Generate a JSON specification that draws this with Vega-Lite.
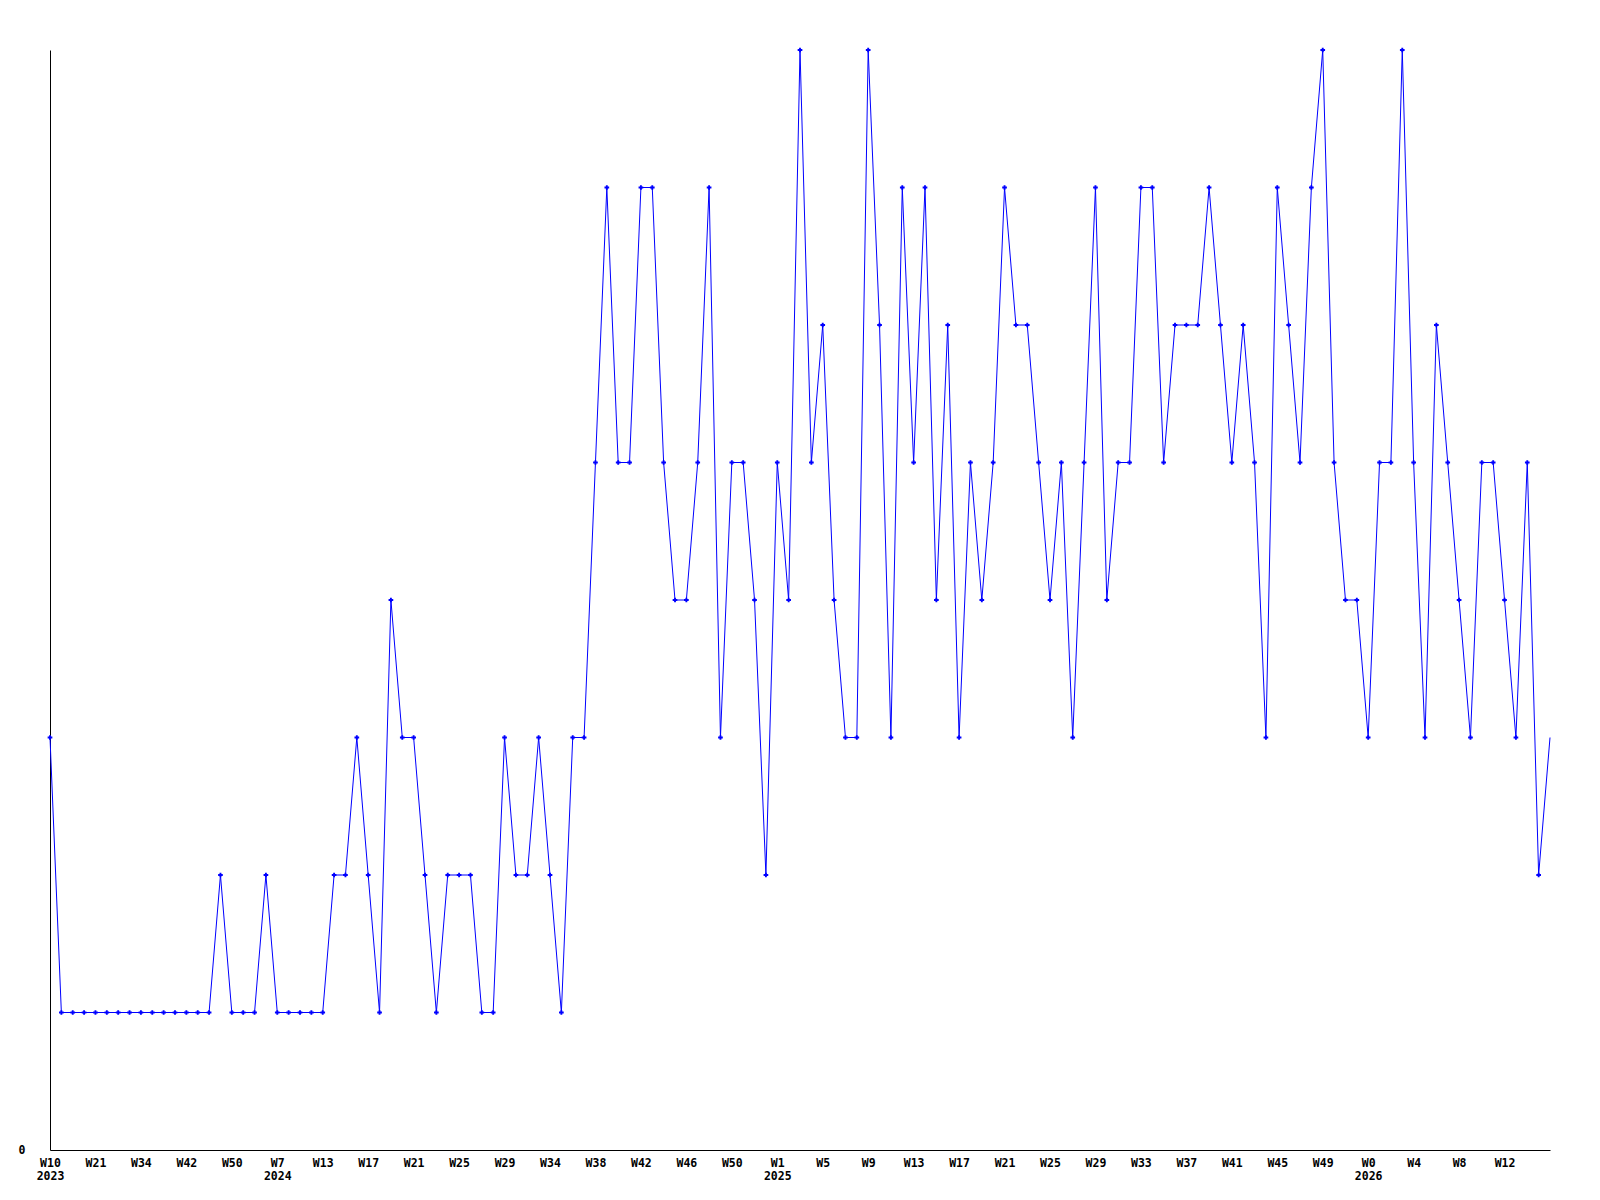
{
  "$schema": "https://vega.github.io/schema/vega-lite/v6.json",
  "width": 1500,
  "height": 1100,
  "autosize": "none",
  "padding": {"left": 50, "top": 50, "right": 50, "bottom": 50},
  "background": "white",
  "config": {"view": {"stroke": null}},
  "data": {"values": [
    {"key":"2023-W10","v":3},{"key":"2023-W13","v":1},{"key":"2023-W16","v":1},{"key":"2023-W19","v":1},
    {"key":"2023-W21","v":1},{"key":"2023-W24","v":1},{"key":"2023-W27","v":1},{"key":"2023-W31","v":1},
    {"key":"2023-W34","v":1},{"key":"2023-W36","v":1},{"key":"2023-W38","v":1},{"key":"2023-W40","v":1},
    {"key":"2023-W42","v":1},{"key":"2023-W44","v":1},{"key":"2023-W46","v":1},{"key":"2023-W48","v":2},
    {"key":"2023-W50","v":1},{"key":"2023-W52","v":1},{"key":"2024-W2","v":1},{"key":"2024-W4","v":2},
    {"key":"2024-W7","v":1},{"key":"2024-W9","v":1},{"key":"2024-W10","v":1},{"key":"2024-W12","v":1},
    {"key":"2024-W13","v":1},{"key":"2024-W14","v":2},{"key":"2024-W15","v":2},{"key":"2024-W16","v":3},
    {"key":"2024-W17","v":2},{"key":"2024-W18","v":1},{"key":"2024-W19","v":4},{"key":"2024-W20","v":3},
    {"key":"2024-W21","v":3},{"key":"2024-W22","v":2},{"key":"2024-W23","v":1},{"key":"2024-W24","v":2},
    {"key":"2024-W25","v":2},{"key":"2024-W26","v":2},{"key":"2024-W27","v":1},{"key":"2024-W28","v":1},
    {"key":"2024-W29","v":3},{"key":"2024-W30","v":2},{"key":"2024-W31","v":2},{"key":"2024-W33","v":3},
    {"key":"2024-W34","v":2},{"key":"2024-W35","v":1},{"key":"2024-W36","v":3},{"key":"2024-W37","v":3},
    {"key":"2024-W38","v":5},{"key":"2024-W39","v":7},{"key":"2024-W40","v":5},{"key":"2024-W41","v":5},
    {"key":"2024-W42","v":7},{"key":"2024-W43","v":7},{"key":"2024-W44","v":5},{"key":"2024-W45","v":4},
    {"key":"2024-W46","v":4},{"key":"2024-W47","v":5},{"key":"2024-W48","v":7},{"key":"2024-W49","v":3},
    {"key":"2024-W50","v":5},{"key":"2024-W51","v":5},{"key":"2024-W52","v":4},{"key":"2025-W0","v":2},
    {"key":"2025-W1","v":5},{"key":"2025-W2","v":4},{"key":"2025-W3","v":8},{"key":"2025-W4","v":5},
    {"key":"2025-W5","v":6},{"key":"2025-W6","v":4},{"key":"2025-W7","v":3},{"key":"2025-W8","v":3},
    {"key":"2025-W9","v":8},{"key":"2025-W10","v":6},{"key":"2025-W11","v":3},{"key":"2025-W12","v":7},
    {"key":"2025-W13","v":5},{"key":"2025-W14","v":7},{"key":"2025-W15","v":4},{"key":"2025-W16","v":6},
    {"key":"2025-W17","v":3},{"key":"2025-W18","v":5},{"key":"2025-W19","v":4},{"key":"2025-W20","v":5},
    {"key":"2025-W21","v":7},{"key":"2025-W22","v":6},{"key":"2025-W23","v":6},{"key":"2025-W24","v":5},
    {"key":"2025-W25","v":4},{"key":"2025-W26","v":5},{"key":"2025-W27","v":3},{"key":"2025-W28","v":5},
    {"key":"2025-W29","v":7},{"key":"2025-W30","v":4},{"key":"2025-W31","v":5},{"key":"2025-W32","v":5},
    {"key":"2025-W33","v":7},{"key":"2025-W34","v":7},{"key":"2025-W35","v":5},{"key":"2025-W36","v":6},
    {"key":"2025-W37","v":6},{"key":"2025-W38","v":6},{"key":"2025-W39","v":7},{"key":"2025-W40","v":6},
    {"key":"2025-W41","v":5},{"key":"2025-W42","v":6},{"key":"2025-W43","v":5},{"key":"2025-W44","v":3},
    {"key":"2025-W45","v":7},{"key":"2025-W46","v":6},{"key":"2025-W47","v":5},{"key":"2025-W48","v":7},
    {"key":"2025-W49","v":8},{"key":"2025-W50","v":5},{"key":"2025-W51","v":4},{"key":"2025-W52","v":4},
    {"key":"2026-W0","v":3},{"key":"2026-W1","v":5},{"key":"2026-W2","v":5},{"key":"2026-W3","v":8},
    {"key":"2026-W4","v":5},{"key":"2026-W5","v":3},{"key":"2026-W6","v":6},{"key":"2026-W7","v":5},
    {"key":"2026-W8","v":4},{"key":"2026-W9","v":3},{"key":"2026-W10","v":5},{"key":"2026-W11","v":5},
    {"key":"2026-W12","v":4},{"key":"2026-W13","v":3},{"key":"2026-W14","v":5},{"key":"2026-W15","v":2},
    {"key":"2026-W16","v":3}
  ]},
  "encoding": {
    "x": {
      "field": "key", "type": "ordinal", "sort": null,
      "scale": {"type": "point", "padding": 0},
      "axis": {
        "title": null,
        "values": ["2023-W10","2023-W21","2023-W34","2023-W42","2023-W50","2024-W7","2024-W13","2024-W17","2024-W21","2024-W25","2024-W29","2024-W34","2024-W38","2024-W42","2024-W46","2024-W50","2025-W1","2025-W5","2025-W9","2025-W13","2025-W17","2025-W21","2025-W25","2025-W29","2025-W33","2025-W37","2025-W41","2025-W45","2025-W49","2026-W0","2026-W4","2026-W8","2026-W12"],
        "labelExpr": "indexof(['2023-W10','2024-W7','2025-W1','2026-W0'], datum.value) >= 0 ? [split(datum.value,'-')[1], split(datum.value,'-')[0]] : split(datum.value,'-')[1]",
        "labelAngle": 0,
        "ticks": false,
        "grid": false,
        "domainColor": "black",
        "domainWidth": 1,
        "labelFont": "DejaVu Sans Mono",
        "labelFontWeight": "bold",
        "labelFontSize": 11.5,
        "labelColor": "black",
        "labelPadding": 7,
        "labelLineHeight": 13,
        "labelOverlap": false
      }
    },
    "y": {
      "field": "v", "type": "quantitative",
      "scale": {"domain": [0, 8], "nice": false, "zero": true},
      "axis": {
        "title": null,
        "values": [0],
        "ticks": false,
        "grid": false,
        "domainColor": "black",
        "domainWidth": 1,
        "labelFont": "DejaVu Sans Mono",
        "labelFontWeight": "bold",
        "labelFontSize": 11.5,
        "labelColor": "black",
        "labelPadding": 25
      }
    }
  },
  "layer": [
    {"mark": {"type": "line", "color": "#0000FF", "strokeWidth": 1}},
    {
      "transform": [{"filter": "datum.key != '2026-W16'"}],
      "mark": {"type": "point", "shape": "cross", "filled": true, "size": 22, "color": "#0000FF", "opacity": 1, "strokeWidth": 0}
    }
  ]
}
